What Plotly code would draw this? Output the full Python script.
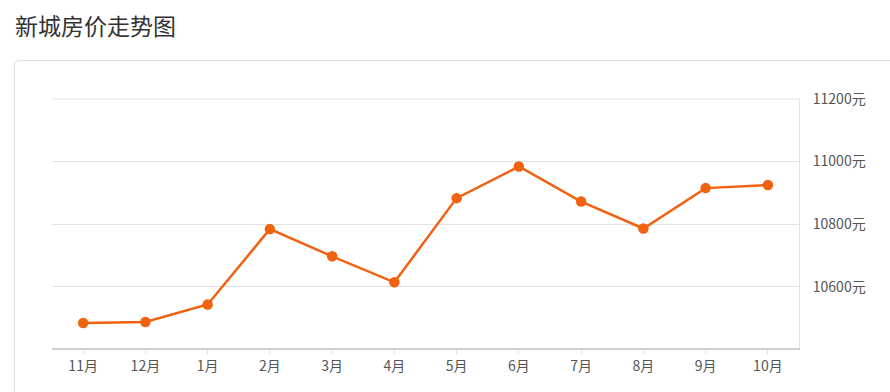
import plotly.graph_objects as go

months = ["11月", "12月", "1月", "2月", "3月", "4月", "5月", "6月", "7月", "8月", "9月", "10月"]
prices = [10484, 10487, 10543, 10784, 10697, 10614, 10883, 10984, 10872, 10786, 10915, 10925]
ytick_vals = [10600, 10800, 11000, 11200]
ytick_text = [f"{v}元" for v in ytick_vals]
title_text = "新城房价走势图"

W, H = 890, 392
L, R, T, B = 52, 91, 98, 44
pw, ph = W - L - R, H - T - B

def px(x):
    return (x - L) / pw

def py(y):
    return 1 - (y - T) / ph

fig = go.Figure()
fig.add_trace(go.Scatter(
    x=list(range(len(months))), y=prices, mode="lines+markers",
    line=dict(color="#f0620f", width=2.5),
    marker=dict(color="#f0620f", size=10.5),
    hoverinfo="skip", showlegend=False,
))

# top gridline (at the max tick value), drawn explicitly
fig.add_shape(type="line", xref="paper", yref="y", x0=0, x1=1,
              y0=ytick_vals[-1], y1=ytick_vals[-1],
              line=dict(color="#e2e2e2", width=1), layer="below")

# card border with rounded top-left corner
r = 5
x0, y0, x1, y1 = 14.5, 60.5, 900, 410
path = (f"M {px(x0)},{py(y1)} L {px(x0)},{py(y0 + r)} "
        f"Q {px(x0)},{py(y0)} {px(x0 + r)},{py(y0)} L {px(x1)},{py(y0)}")
fig.add_shape(type="path", xref="paper", yref="paper", path=path,
              line=dict(color="#dcdcdc", width=1), layer="below")

fig.add_annotation(text=title_text, xref="paper", yref="paper",
                   x=px(13), y=py(25), xanchor="left", yanchor="middle",
                   showarrow=False,
                   font=dict(family="Noto Sans CJK SC", size=23, color="#333333"))

fig.update_layout(
    width=W, height=H,
    margin=dict(l=L, r=R, t=T, b=B),
    paper_bgcolor="white", plot_bgcolor="white",
    font=dict(family="Noto Sans CJK SC", size=14, color="#555555"),
    xaxis=dict(
        range=[-0.5, len(months) - 0.5],
        tickmode="array", tickvals=list(range(len(months))), ticktext=months,
        showgrid=False, zeroline=False,
        showline=True, linecolor="#d0d0d0", linewidth=2,
        ticks="outside", ticklen=4, tickcolor="#dddddd", tickwidth=1,
        tickfont=dict(size=14, color="#555555"),
    ),
    yaxis=dict(
        side="right", range=[10404, 11203],
        tickmode="array", tickvals=ytick_vals, ticktext=ytick_text,
        showgrid=True, gridcolor="#e2e2e2", gridwidth=1,
        zeroline=False, showline=True, linecolor="#e2e2e2", linewidth=1,
        ticks="", ticklabelstandoff=10,
        tickfont=dict(size=14, color="#555555"),
    ),
)

fig.write_html("out.html")
